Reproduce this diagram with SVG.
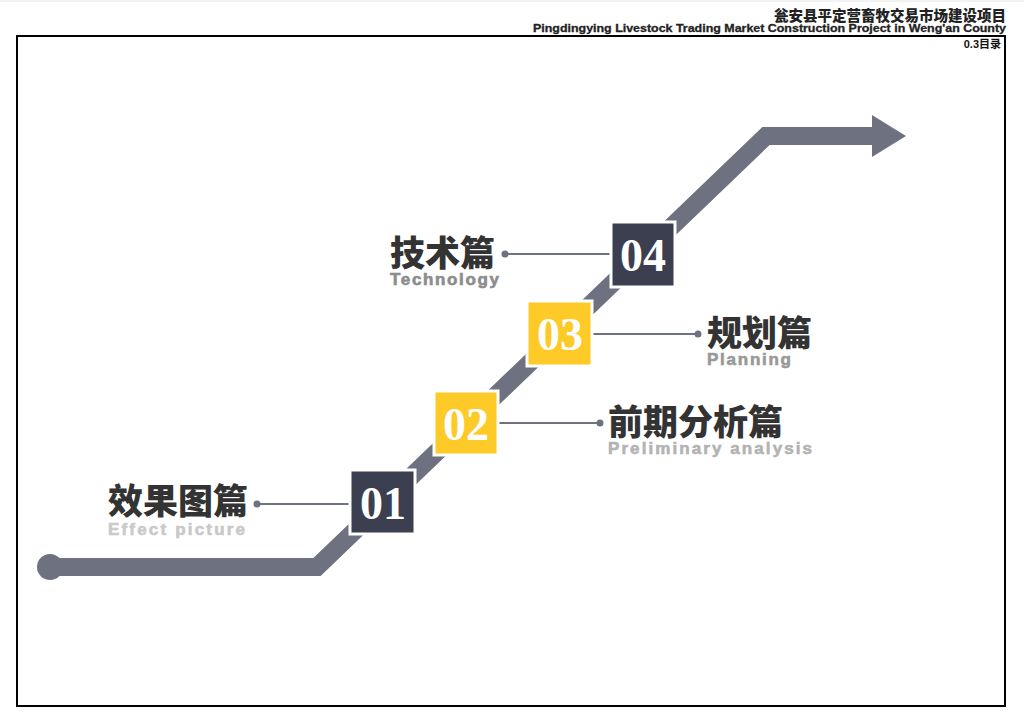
<svg xmlns="http://www.w3.org/2000/svg" width="1024" height="723" viewBox="0 0 1024 723">
<style>
.cn{font-family:"Noto Sans CJK SC","Noto Sans",sans-serif;font-weight:900;font-size:35px;fill:#333333}
.en{font-family:"Liberation Sans","Arial",sans-serif;font-weight:bold;font-size:17px;stroke-width:0.6px}
.num{font-family:"Liberation Serif","DejaVu Serif",serif;font-weight:bold;font-size:46px;fill:#ffffff;text-anchor:middle}
.box{stroke:#ffffff;stroke-width:3}
.dark{fill:#3b3f4f}
.yel{fill:#fdca27}
.lead{stroke:#6e7280;stroke-width:2;fill:none}
.dot{fill:#6e7280}
</style>
<rect width="1024" height="723" fill="#ffffff"/>
<line x1="0" y1="1" x2="1024" y2="1" stroke="#e6e6e6" stroke-width="1"/>
<g id="header">
<text x="1006" y="21" text-anchor="end" style="font-family:'Noto Sans CJK SC',sans-serif;font-weight:900;font-size:14.5px;fill:#222">瓮安县平定营畜牧交易市场建设项目</text>
<text x="533" y="32" textLength="473" lengthAdjust="spacingAndGlyphs" style="font-family:'Liberation Sans',sans-serif;font-weight:bold;font-size:11px;fill:#222;stroke:#222;stroke-width:0.3px">Pingdingying Livestock Trading Market Construction Project in Weng'an County</text>
<text x="1001" y="48" text-anchor="end" style="font-family:'Liberation Sans','Noto Sans CJK SC',sans-serif;font-weight:bold;font-size:11px;fill:#111">0.3目录</text>
</g>
<rect id="frame" x="17" y="36" width="988" height="670" fill="none" stroke="#000" stroke-width="2"/>
<g id="connectors">
<path d="M50,567 L317,567 L766,136 L873,136" fill="none" stroke="#6e7280" stroke-width="18" stroke-linejoin="miter"/>
<circle cx="50" cy="567" r="13" fill="#6e7280"/>
<polygon points="872,115 906,136 872,157" fill="#6e7280"/>
<line class="lead" x1="257" y1="504" x2="350" y2="504"/>
<circle class="dot" cx="257" cy="504" r="3.5"/>
<line class="lead" x1="498" y1="423" x2="600" y2="423"/>
<circle class="dot" cx="600" cy="423" r="3.5"/>
<line class="lead" x1="592" y1="334" x2="698" y2="334"/>
<circle class="dot" cx="698" cy="334" r="3.5"/>
<line class="lead" x1="505" y1="254" x2="611" y2="254"/>
<circle class="dot" cx="505" cy="254" r="3.5"/>
</g>
<g id="node01">
<rect class="box dark" x="350" y="470" width="65" height="64"/>
<text class="num" x="383" y="519">01</text>
<text class="cn" x="108" y="514">效果图篇</text>
<text class="en" x="108" y="535" textLength="137" style="fill:#c9c9c9;stroke:#c9c9c9">Effect  picture</text>
</g>
<g id="node02">
<rect class="box yel" x="434" y="391" width="64" height="64"/>
<text class="num" x="466" y="440">02</text>
<text class="cn" x="608" y="435">前期分析篇</text>
<text class="en" x="608" y="454" textLength="204" style="fill:#b3b3b3;stroke:#b3b3b3">Preliminary  analysis</text>
</g>
<g id="node03">
<rect class="box yel" x="527" y="301" width="65" height="65"/>
<text class="num" x="560" y="350">03</text>
<text class="cn" x="707" y="346">规划篇</text>
<text class="en" x="707" y="365" textLength="84" style="fill:#999999;stroke:#999999">Planning</text>
</g>
<g id="node04">
<rect class="box dark" x="611" y="222" width="64" height="65"/>
<text class="num" x="643" y="271">04</text>
<text class="cn" x="390" y="266">技术篇</text>
<text class="en" x="390" y="285" textLength="109" style="fill:#8c8c8c;stroke:#8c8c8c">Technology</text>
</g>
</svg>
